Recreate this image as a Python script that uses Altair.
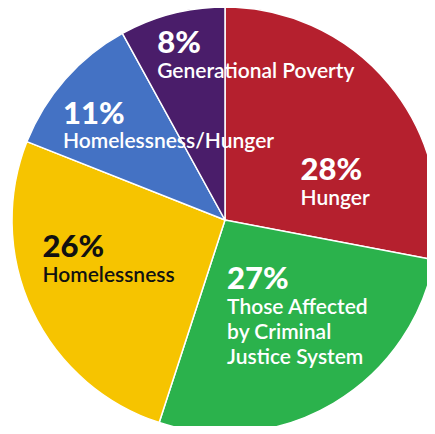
import altair as alt
import pandas as pd

categories = ["Hunger", "Those Affected by Criminal Justice System", "Homelessness",
              "Homelessness/Hunger", "Generational Poverty"]
values = [28, 27, 26, 11, 8]
pct_labels = ["28%", "27%", "26%", "11%", "8%"]
name_labels = ["Hunger", "Those Affected\nby Criminal\nJustice System", "Homelessness",
               "Homelessness/Hunger", "Generational Poverty"]

colors = ["#B5202E", "#2BB24C", "#F6C400", "#4472C4", "#4A1D6A"]
text_colors = ["white", "white", "#111111", "white", "white"]

df = pd.DataFrame({"cat": categories, "value": values, "idx": list(range(len(values))),
                   "pct": pct_labels, "name": name_labels})

CX, CY, R = 217, 212, 213
LR = 120
# per-slice label offsets from the anchor point (dx, dy of percent, dy of name)
offsets = {
    "Hunger": (-17, 36, 61),
    "Those Affected by Criminal Justice System": (-59, -34, -9),
    "Homelessness": (-74, -14, 11),
    "Homelessness/Hunger": (-72, -17, 7),
    "Generational Poverty": (-38, -51, -26),
}

base = alt.Chart(df).encode(
    theta=alt.Theta("value:Q", stack=True),
    order=alt.Order("idx:Q"),
    x=alt.value(CX),
    y=alt.value(CY),
)

pie = base.mark_arc(radius=R, stroke="white", strokeWidth=1.5).encode(
    color=alt.Color("cat:N", scale=alt.Scale(domain=categories, range=colors), legend=None)
)

layers = [pie]
for cat, tc in zip(categories, text_colors):
    dx, dyp, dyn = offsets[cat]
    pct_layer = base.transform_calculate(
        t=f"datum.cat == '{cat}' ? datum.pct : ''"
    ).mark_text(radius=LR, align="left", baseline="alphabetic", dx=dx, dy=dyp,
                font="Lato", fontSize=31, fontWeight=900, fill=tc).encode(text="t:N")
    name_layer = base.transform_calculate(
        t=f"datum.cat == '{cat}' ? datum.name : ''"
    ).mark_text(radius=LR, align="left", baseline="alphabetic", dx=dx, dy=dyn,
                font="Lato", fontSize=21, fontWeight=600, fill=tc,
                lineBreak="\n", lineHeight=25).encode(text="t:N")
    layers += [pct_layer, name_layer]

chart = alt.layer(*layers).properties(
    width=419, height=418, padding=0,
    autosize=alt.AutoSizeParams(type="none"),
    background="white",
).configure_view(stroke=None)

chart.save("out.html", embed_options={"renderer": "svg", "actions": False})
